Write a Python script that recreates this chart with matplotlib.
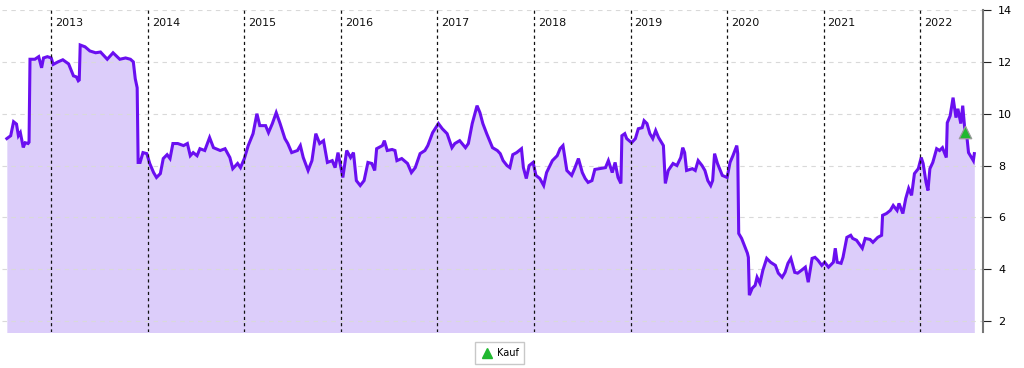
import numpy as np
import matplotlib
matplotlib.use("Agg")
import matplotlib.pyplot as plt
from matplotlib.lines import Line2D

# price history, x in decimal years
years = [2012.54, 2012.58, 2012.61, 2012.64, 2012.66, 2012.68, 2012.71, 2012.73, 2012.76, 2012.77,
         2012.78, 2012.83, 2012.87, 2012.90, 2012.92, 2012.96, 2013.00, 2013.02, 2013.07, 2013.12,
         2013.18, 2013.23, 2013.26, 2013.28, 2013.29, 2013.30, 2013.35, 2013.40, 2013.46, 2013.51,
         2013.58, 2013.64, 2013.71, 2013.77, 2013.82, 2013.85, 2013.87, 2013.89, 2013.90, 2013.92,
         2013.95, 2013.99, 2014.02, 2014.06, 2014.09, 2014.13, 2014.16, 2014.20, 2014.23, 2014.26,
         2014.31, 2014.37, 2014.41, 2014.44, 2014.47, 2014.51, 2014.54, 2014.59, 2014.64, 2014.68,
         2014.75, 2014.80, 2014.85, 2014.88, 2014.93, 2014.96, 2015.00, 2015.04, 2015.09, 2015.13,
         2015.16, 2015.22, 2015.25, 2015.29, 2015.33, 2015.37, 2015.42, 2015.45, 2015.49, 2015.55,
         2015.58, 2015.61, 2015.66, 2015.70, 2015.74, 2015.78, 2015.82, 2015.86, 2015.91, 2015.94,
         2015.97, 2016.02, 2016.06, 2016.10, 2016.13, 2016.16, 2016.20, 2016.24, 2016.28, 2016.32,
         2016.35, 2016.37, 2016.43, 2016.45, 2016.48, 2016.53, 2016.56, 2016.58, 2016.63, 2016.69,
         2016.73, 2016.77, 2016.82, 2016.87, 2016.90, 2016.95, 2017.01, 2017.05, 2017.10, 2017.15,
         2017.18, 2017.23, 2017.29, 2017.32, 2017.36, 2017.41, 2017.44, 2017.47, 2017.51, 2017.57,
         2017.62, 2017.65, 2017.68, 2017.72, 2017.75, 2017.78, 2017.82, 2017.87, 2017.89, 2017.92,
         2017.95, 2017.99, 2018.02, 2018.06, 2018.10, 2018.13, 2018.19, 2018.24, 2018.27, 2018.30,
         2018.34, 2018.39, 2018.42, 2018.46, 2018.50, 2018.53, 2018.56, 2018.60, 2018.63, 2018.68,
         2018.74, 2018.77, 2018.81, 2018.84, 2018.87, 2018.90, 2018.91, 2018.94, 2018.96, 2019.01,
         2019.05, 2019.08, 2019.12, 2019.14, 2019.17, 2019.20, 2019.23, 2019.26, 2019.29, 2019.34,
         2019.36, 2019.39, 2019.44, 2019.48, 2019.52, 2019.54, 2019.56, 2019.58, 2019.64, 2019.67,
         2019.70, 2019.74, 2019.77, 2019.80, 2019.83, 2019.85, 2019.87, 2019.90, 2019.95, 2020.00,
         2020.03, 2020.06, 2020.10, 2020.11, 2020.12, 2020.15, 2020.17, 2020.21, 2020.22, 2020.23,
         2020.26, 2020.29, 2020.31, 2020.34, 2020.37, 2020.41, 2020.45, 2020.50, 2020.53, 2020.57,
         2020.60, 2020.63, 2020.66, 2020.70, 2020.73, 2020.77, 2020.81, 2020.84, 2020.88, 2020.91,
         2020.94, 2020.98, 2021.01, 2021.05, 2021.10, 2021.12, 2021.14, 2021.18, 2021.20, 2021.24,
         2021.28, 2021.30, 2021.34, 2021.40, 2021.43, 2021.48, 2021.51, 2021.56, 2021.60, 2021.61,
         2021.65, 2021.69, 2021.72, 2021.76, 2021.78, 2021.82, 2021.85, 2021.88, 2021.91, 2021.94,
         2021.98, 2022.01, 2022.03, 2022.06, 2022.08, 2022.10, 2022.13, 2022.17, 2022.20, 2022.23,
         2022.27, 2022.28, 2022.31, 2022.34, 2022.37, 2022.39, 2022.42, 2022.44, 2022.46, 2022.48,
         2022.50, 2022.55, 2022.56]

price = [9.04, 9.15, 9.69, 9.60, 9.15, 9.27, 8.70, 8.88, 8.85, 8.90,
         12.10, 12.10, 12.20, 11.77, 12.15, 12.20, 12.15, 11.90, 12.00, 12.08,
         11.92, 11.46, 11.42, 11.27, 11.30, 12.65, 12.58, 12.42, 12.35, 12.38,
         12.10, 12.35, 12.10, 12.15, 12.10, 12.00, 11.35, 11.00, 8.12, 8.12,
         8.50, 8.46, 8.08, 7.73, 7.54, 7.69, 8.27, 8.42, 8.27, 8.85,
         8.85, 8.77, 8.85, 8.38, 8.50, 8.38, 8.65, 8.58, 9.08, 8.69,
         8.58, 8.65, 8.31, 7.88, 8.08, 7.92, 8.27, 8.77, 9.23, 10.00,
         9.54, 9.54, 9.27, 9.62, 10.04, 9.62, 9.04, 8.85, 8.50, 8.58,
         8.77, 8.31, 7.81, 8.19, 9.23, 8.85, 8.96, 8.12, 8.19, 7.92,
         8.50, 7.54, 8.58, 8.31, 8.50, 7.42, 7.23, 7.42, 8.12, 8.08,
         7.81, 8.65, 8.77, 8.96, 8.58, 8.62, 8.58, 8.19, 8.27, 8.08,
         7.73, 7.92, 8.46, 8.58, 8.77, 9.27, 9.62, 9.42, 9.23, 8.69,
         8.85, 8.96, 8.69, 8.85, 9.62, 10.31, 10.04, 9.62, 9.23, 8.69,
         8.58, 8.46, 8.19, 8.00, 7.92, 8.42, 8.50, 8.65, 7.92, 7.50,
         8.00, 8.12, 7.62, 7.50, 7.23, 7.73, 8.19, 8.38, 8.65, 8.77,
         7.81, 7.62, 7.88, 8.27, 7.73, 7.50, 7.35, 7.42, 7.85, 7.88,
         7.92, 8.19, 7.73, 8.12, 7.54, 7.31, 9.15, 9.23, 9.04, 8.88,
         9.04, 9.42, 9.46, 9.73, 9.62, 9.23, 9.04, 9.35, 9.08, 8.77,
         7.31, 7.81, 8.08, 8.00, 8.31, 8.69, 8.50, 7.81, 7.88, 7.81,
         8.19, 8.00, 7.81, 7.42, 7.23, 7.42, 8.46, 8.08, 7.62, 7.54,
         8.12, 8.38, 8.77, 8.46, 5.38, 5.19, 5.00, 4.62, 4.46, 3.00,
         3.27, 3.38, 3.69, 3.46, 3.96, 4.42, 4.27, 4.15, 3.85, 3.69,
         3.88, 4.23, 4.42, 3.88, 3.85, 3.96, 4.08, 3.50, 4.42, 4.46,
         4.35, 4.15, 4.27, 4.08, 4.27, 4.81, 4.27, 4.23, 4.46, 5.23,
         5.31, 5.19, 5.12, 4.81, 5.19, 5.15, 5.04, 5.23, 5.31, 6.08,
         6.15, 6.27, 6.46, 6.27, 6.54, 6.15, 6.73, 7.12, 6.85, 7.69,
         7.88, 8.31, 8.08, 7.35, 7.04, 7.88, 8.12, 8.65, 8.58, 8.69,
         8.31, 9.65, 9.92, 10.62, 9.85, 10.19, 9.62, 10.31, 9.46, 9.23,
         8.50, 8.19, 8.46]

buy_year = [2022.46]
buy_price = [9.3]

year_marks = list(range(2013, 2023))
yticks = [2, 4, 6, 8, 10, 12, 14]

line_col = '#6a0ff0'
fill_col = '#dccdfa'

fig = plt.figure(figsize=(10.24, 3.68), dpi=100)
ax = fig.add_axes([2 / 1024, 36 / 368, 981 / 1024, 322 / 368])

ax.fill_between(years, price, 0, color=fill_col, lw=0, zorder=1)
ax.plot(years, price, color=line_col, lw=2.2, zorder=3, solid_joinstyle='miter')

for y in yticks:
    ax.axhline(y, color='#d9d9d9', lw=0.8, ls=(0, (4, 4)), zorder=2)
for yr in year_marks:
    ax.axvline(yr, color='#111111', lw=0.9, ls=(0, (2.5, 2.5)), zorder=4)
    ax.text(yr + 0.04, 13.5, str(yr), fontsize=8, color='#111111', va='center', ha='left')

ax.scatter(buy_year, buy_price, marker='^', s=80, color='#20b830', edgecolors='#999999',
           linewidths=0.9, zorder=5)

ax.set_xlim(2012.49, 2022.65)
ax.set_ylim(1.58, 13.96)

for s in ['left', 'top', 'bottom']:
    ax.spines[s].set_visible(False)
ax.spines['right'].set_color('#777777')
ax.spines['right'].set_linewidth(1.5)
ax.set_xticks([])
ax.yaxis.tick_right()
ax.set_yticks(yticks)
ax.tick_params(axis='y', length=6, width=0.8, color='#222222', labelsize=8, pad=5)

handle = Line2D([], [], marker='^', color='#20b830', ls='none', markersize=7)
fig.legend([handle], ['Kauf'], loc='center', bbox_to_anchor=(0.488, 0.04), fontsize=7,
           frameon=True, fancybox=False, edgecolor='#bbbbbb', handletextpad=0.4,
           borderpad=0.6, handlelength=1.2)

fig.savefig('out.png', dpi=100)
